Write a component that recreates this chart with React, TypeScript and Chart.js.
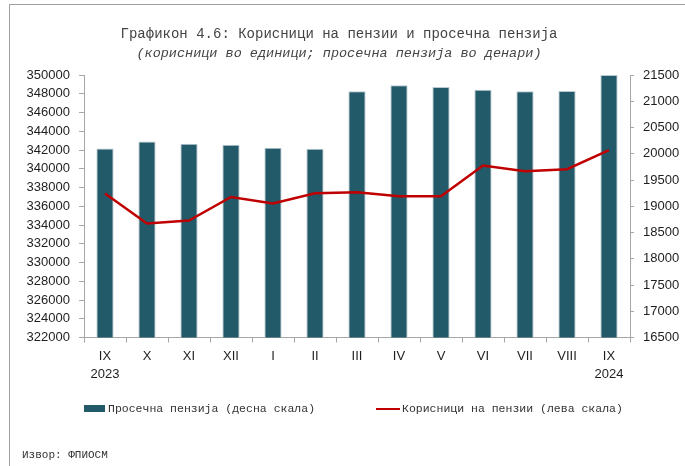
import React, { useEffect, useRef } from 'react';
import { Chart, registerables } from 'chart.js';

Chart.register(...registerables);

// ---- data ----
const months = ['IX', 'X', 'XI', 'XII', 'I', 'II', 'III', 'IV', 'V', 'VI', 'VII', 'VIII', 'IX'];
const years = ['2023', '', '', '', '', '', '', '', '', '', '', '', '2024'];
// Просечна пензија (десна скала), денари
const avgPension = [20100, 20235, 20190, 20170, 20115, 20095, 21190, 21305, 21270, 21220, 21190, 21195, 21500];
// Корисници на пензии (лева скала), единици
const beneficiaries = [337350, 334150, 334470, 336990, 336290, 337390, 337490, 337070, 337070, 340350, 339740, 339950, 341980];
const leftAxis = { min: 322000, max: 350000, step: 2000 };
const rightAxis = { min: 16500, max: 21500, step: 500 };

const titleLine1 = 'Графикон 4.6: Корисници на пензии и просечна пензија';
const titleLine2 = '(корисници во единици; просечна пензија во денари)';
const barLabel = 'Просечна пензија (десна скала)';
const lineLabel = 'Корисници на пензии (лева скала)';
const sourceText = 'Извор: ФПИОСМ';

const BAR_COLOR = '#235a69';
const LINE_COLOR = '#c00000';
const AXIS_COLOR = '#a6a6a6';
const TEXT_COLOR = '#1e1e1e';
const MONO = '"Liberation Mono", "DejaVu Sans Mono", monospace';

export default function App() {
  const ref = useRef<HTMLCanvasElement | null>(null);

  useEffect(() => {
    const canvas = ref.current;
    if (!canvas) return;
    const labels = months.map((m, i) => (years[i] ? [m, years[i]] : m));
    const tickFont = { family: '"Liberation Sans", Arial, sans-serif', size: 13, lineHeight: 1.4 };
    const chart = new Chart(canvas, {
      type: 'bar',
      data: {
        labels,
        datasets: [
          {
            type: 'line',
            label: lineLabel,
            data: beneficiaries,
            yAxisID: 'y',
            borderColor: LINE_COLOR,
            backgroundColor: LINE_COLOR,
            borderWidth: 2.5,
            pointRadius: 0,
            tension: 0,
            order: 0,
          } as any,
          {
            type: 'bar',
            label: barLabel,
            data: avgPension,
            yAxisID: 'y1',
            backgroundColor: BAR_COLOR,
            borderColor: '#b9c9cf',
            borderWidth: 1,
            categoryPercentage: 1,
            barPercentage: 0.41,
            order: 1,
          } as any,
        ],
      },
      options: {
        animation: false,
        responsive: false,
        devicePixelRatio: 1,
        layout: { padding: { top: 75, left: 0, right: 0, bottom: 0 } },
        plugins: {
          legend: { display: false },
          title: { display: false },
          tooltip: { enabled: false },
        },
        scales: {
          x: {
            grid: { drawOnChartArea: false, drawTicks: true, tickLength: 5, color: AXIS_COLOR, offset: true },
            border: { color: AXIS_COLOR, width: 1 },
            ticks: { font: tickFont, color: TEXT_COLOR, padding: 5, maxRotation: 0, autoSkip: false },
            afterFit: (s: any) => { s.height = 128.5; },
          },
          y: {
            position: 'left',
            min: leftAxis.min,
            max: leftAxis.max,
            grid: { drawOnChartArea: false, drawTicks: true, tickLength: 5, color: AXIS_COLOR },
            border: { color: AXIS_COLOR, width: 1 },
            ticks: { stepSize: leftAxis.step, autoSkip: false, font: tickFont, color: TEXT_COLOR, padding: 9, callback: (v: any) => String(v) },
            afterFit: (s: any) => { s.width = 84; },
          },
          y1: {
            position: 'right',
            min: rightAxis.min,
            max: rightAxis.max,
            grid: { drawOnChartArea: false, drawTicks: true, tickLength: 4, color: AXIS_COLOR },
            border: { color: AXIS_COLOR, width: 1 },
            ticks: { stepSize: rightAxis.step, autoSkip: false, font: tickFont, color: TEXT_COLOR, padding: 9, callback: (v: any) => String(v) },
            afterFit: (s: any) => { s.width = 55; },
          },
        },
      },
    });
    return () => chart.destroy();
  }, []);

  return (
    <div style={{ position: 'fixed', left: 0, top: 0, width: 685, height: 466, overflow: 'hidden', background: '#fff' }}>
      <div style={{ position: 'absolute', left: 9, top: 4, width: 900, height: 900, borderLeft: '1px solid #a0a0a0', borderTop: '1px solid #a0a0a0' }} />
      <canvas ref={ref} width={685} height={466} style={{ position: 'absolute', left: 0, top: 0, width: 685, height: 466 }} />
      <div style={{ position: 'absolute', left: 0, width: 678, top: 25, textAlign: 'center', font: `14px ${MONO}`, color: '#444', lineHeight: '19px', whiteSpace: 'nowrap' }}>
        <div>{titleLine1}</div>
        <div style={{ fontStyle: 'italic', fontSize: 13.5 }}>{titleLine2}</div>
      </div>
      <div style={{ position: 'absolute', left: 84, top: 405, width: 21, height: 7, background: BAR_COLOR }} />
      <div style={{ position: 'absolute', left: 108, top: 400, font: `11.5px ${MONO}`, color: '#333', lineHeight: '17px', whiteSpace: 'nowrap' }}>{barLabel}</div>
      <div style={{ position: 'absolute', left: 376, top: 407.5, width: 24, height: 2.5, background: LINE_COLOR }} />
      <div style={{ position: 'absolute', left: 402, top: 400, font: `11.5px ${MONO}`, color: '#333', lineHeight: '17px', whiteSpace: 'nowrap' }}>{lineLabel}</div>
      <div style={{ position: 'absolute', left: 22, top: 447, font: `11px ${MONO}`, color: '#333', lineHeight: '16px', whiteSpace: 'nowrap' }}>{sourceText}</div>
    </div>
  );
}
